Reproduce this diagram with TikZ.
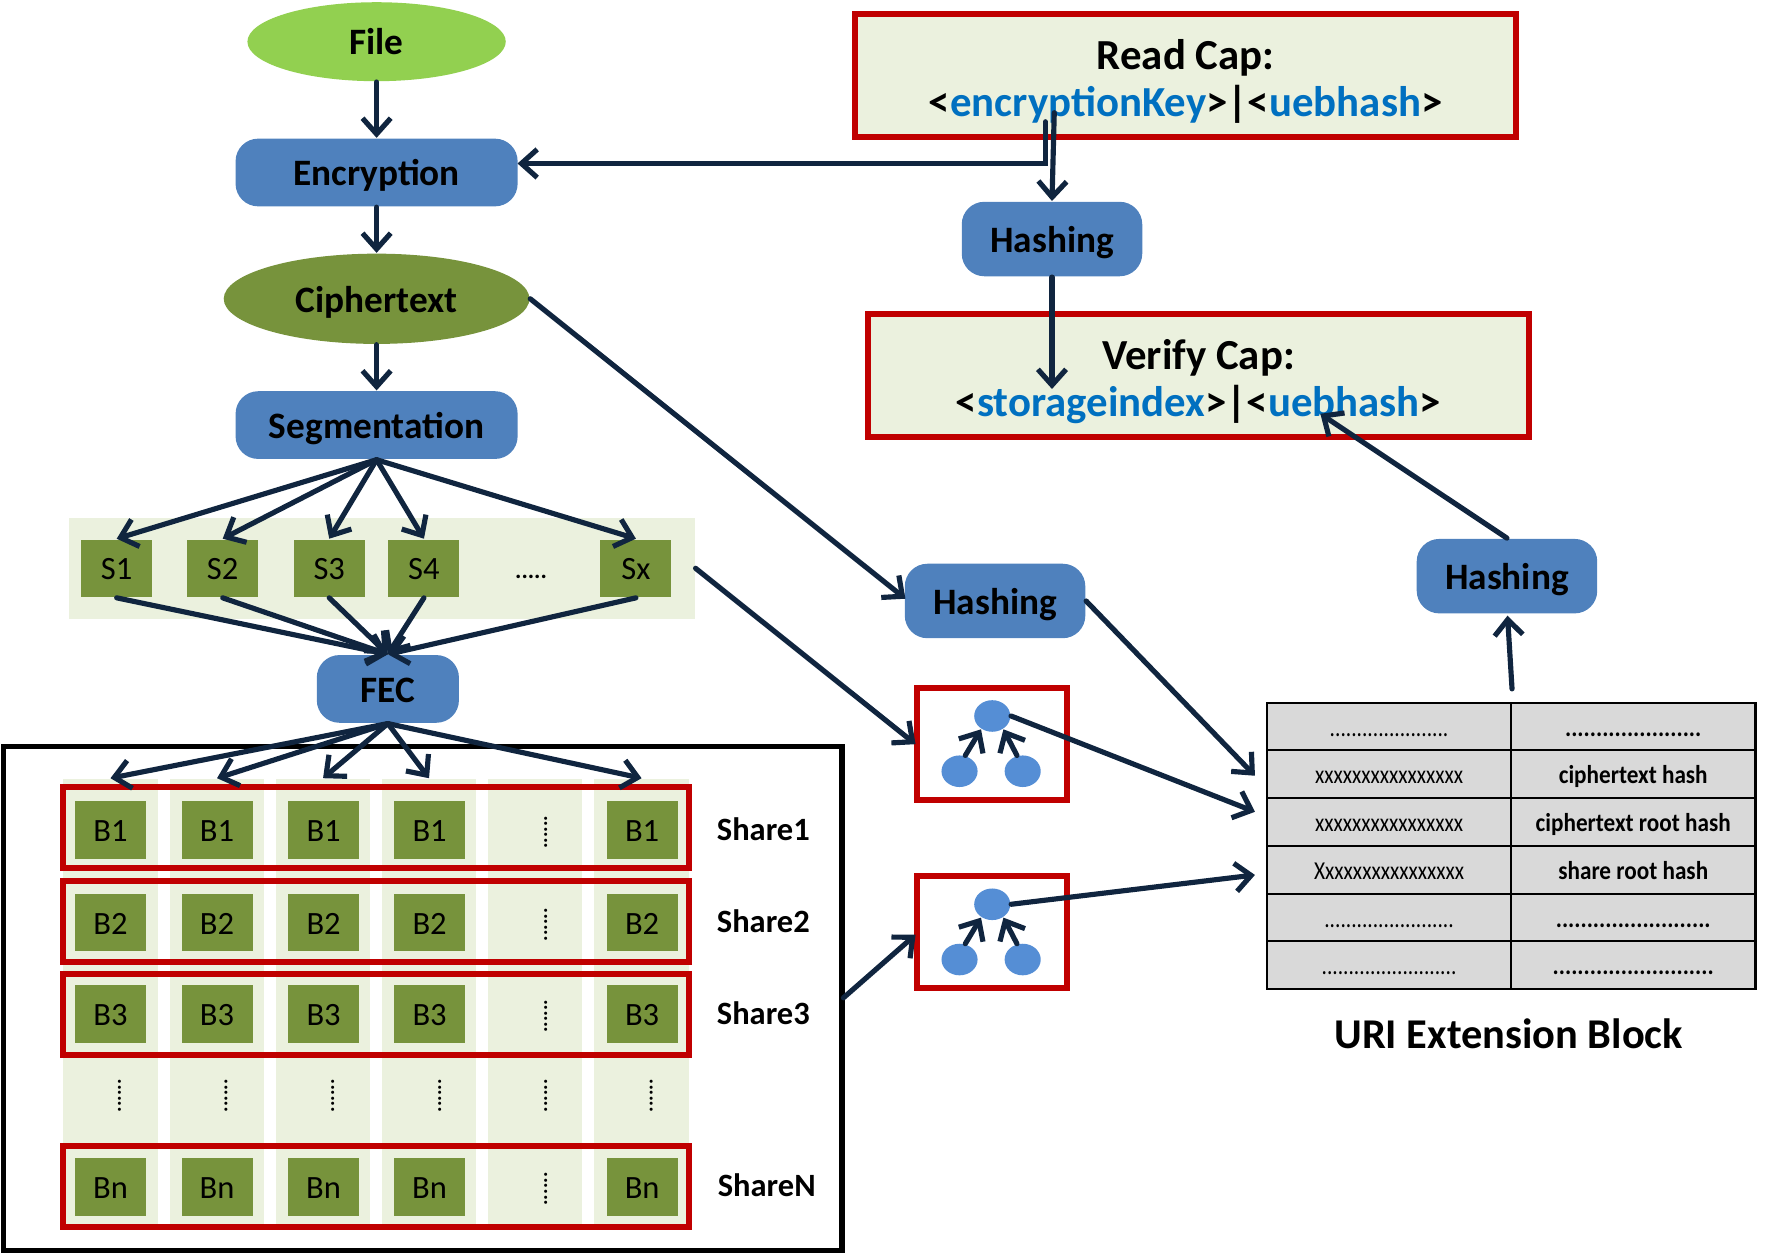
\documentclass[tikz,border=0pt]{standalone}
\usepackage{fontspec}
\usepackage{xcolor}
\setmainfont{Carlito}
\newfontfamily\narrowfont[FakeStretch=0.83]{Carlito}
\usetikzlibrary{arrows.meta,shapes.geometric}
\definecolor{leaf-green}{HTML}{92D050}
\definecolor{olive-green}{HTML}{77933C}
\definecolor{pale-green}{HTML}{EBF1DE}
\definecolor{box-blue}{HTML}{4F81BD}
\definecolor{tree-blue}{HTML}{558ED5}
\definecolor{cap-red}{HTML}{C00000}
\definecolor{cap-blue}{HTML}{0070C0}
\definecolor{arrow-navy}{HTML}{10253F}
\definecolor{cell-grey}{HTML}{D9D9D9}
\tikzset{
    flow-arrow/.style = {draw=arrow-navy, line width=1.3pt, line cap=round, -{Straight Barb[length=1.4mm,width=2.5mm,line width=1.3pt]}},
    process-box/.style = {fill=box-blue, rectangle, rounded corners=0.2cm, minimum height=0.6cm, font=\fontsize{9.4}{11}\selectfont\bfseries, inner sep=0pt, text height=7.7pt, text depth=1pt},
    hash-box/.style = {process-box, minimum width=1.6cm, minimum height=0.66cm},
    data-ellipse/.style = {ellipse, font=\fontsize{9.4}{11}\selectfont\bfseries, inner sep=0pt, text height=7.7pt, text depth=1pt},
    cap-box/.style = {draw=cap-red, fill=pale-green, line width=1.5pt, rectangle, minimum width=5.86cm, minimum height=1.09cm, align=center, font=\fontsize{10.8}{11.7}\selectfont\bfseries},
    segment-box/.style = {fill=olive-green, rectangle, minimum width=0.63cm, minimum height=0.51cm, font=\fontsize{8.2}{10}\selectfont, inner sep=0pt, text height=5.9pt, text depth=0pt},
    share-band/.style = {fill=pale-green, rectangle, minimum width=0.84cm, minimum height=3.97cm, inner sep=0pt},
    share-row/.style = {draw=cap-red, line width=1.5pt, rectangle, minimum width=5.55cm, minimum height=0.72cm},
    share-label/.style = {font=\fontsize{8.2}{10}\selectfont\bfseries},
    tree-box/.style = {draw=cap-red, line width=1.5pt, rectangle, minimum width=1.33cm, minimum height=0.99cm},
    tree-dot/.style = {fill=tree-blue, ellipse, minimum width=0.32cm, minimum height=0.28cm, inner sep=0pt},
    dot-run/.style = {rotate=90, font=\fontsize{5.2}{6}\selectfont\bfseries, inner sep=0pt},
    table-cell/.style = {draw=black, fill=cell-grey, line width=0.6pt, rectangle, minimum height=0.4233cm, text height=6.1pt, text depth=1.4pt, inner sep=0pt, font=\fontsize{6.5}{7}\selectfont},
}
\newcommand{\capkey}[1]{\textcolor{cap-blue}{#1}}

\begin{document}
\begin{tikzpicture}[x=0.01cm,y=-0.01cm]
\useasboundingbox (0,0) rectangle (1568,1113);

\node[data-ellipse, fill=leaf-green, minimum width=2.29cm, minimum height=0.7cm] (file) at (334,37) {File};
\node[process-box, minimum width=2.5cm] (encryption) at (334,153) {Encryption};
\node[data-ellipse, fill=olive-green, minimum width=2.71cm, minimum height=0.8cm] (ciphertext) at (334,265) {Ciphertext};
\node[process-box, minimum width=2.5cm] (segmentation) at (334,377) {Segmentation};

\node[fill=pale-green, rectangle, minimum width=5.55cm, minimum height=0.9cm, inner sep=0pt] (segband) at (338.5,504) {};
\foreach \name/\xpos/\txt in {s1/103.5/S1, s2/197.5/S2, s3/292/S3, s4/376/S4, sx/564/Sx}
    \node[segment-box] (\name) at (\xpos,504) {\txt};
\node[font=\fontsize{6}{7}\selectfont\bfseries, inner sep=0pt] (segdots) at (471,512) {.....};

\node[process-box, minimum width=1.26cm] (fec) at (344,611) {FEC};

\node[draw=black, line width=1.4pt, rectangle, minimum width=7.43cm, minimum height=4.47cm] (sharebox) at (375,885.5) {};
\foreach \name/\xpos in {b1/98, b2/192.5, b3/286.5, b4/380.5, b5/474.5, bx/569}
    \node[share-band] (\name) at (\xpos,889.5) {};
\foreach \rname/\ypos/\boxy/\labelx/\labely/\boxtxt/\sharetxt in {row1/734/736/677/735/B1/Share1, row2/817/818/677/817/B2/Share2, row3/899.5/899.5/677/899/B3/Share3, rown/1052/1052.5/680/1051/Bn/ShareN} {
    \node[share-row] (\rname) at (333.5,\ypos) {};
    \foreach \xpos in {98, 192.5, 287, 381, 569.5}
        \node[segment-box] at (\xpos,\boxy) {\boxtxt};
    \node[dot-run] at (484,\boxy+2) {......};
    \node[share-label] (\rname-label) at (\labelx,\labely) {\sharetxt};
}
\foreach \xpos in {106, 200.5, 295, 390, 484, 577.5}
    \node[dot-run] at (\xpos,972) {......};

\node[cap-box] (readcap) at (1051.5,67) {\rule{0pt}{10.6pt}Read Cap:\\<\capkey{encryptionKey}>|<\capkey{uebhash}>};
\node[hash-box] (hash1) at (933,212) {Hashing};
\node[cap-box] (verifycap) at (1063,333) {\rule{0pt}{10.6pt}Verify Cap:\\<\capkey{storageindex}>|<\capkey{uebhash}>};
\node[hash-box] (hash2) at (882.5,533) {Hashing};
\node[hash-box] (hash3) at (1336.5,511) {Hashing};

\node[tree-box] (tree1) at (879.5,660) {};
\node[tree-dot] (tree1top) at (880,635) {};
\node[tree-dot] (tree1a) at (851,684) {};
\node[tree-dot] (tree1b) at (907,684) {};
\node[tree-box] (tree2) at (879.5,826.5) {};
\node[tree-dot] (tree2top) at (880,802) {};
\node[tree-dot] (tree2a) at (851,851) {};
\node[tree-dot] (tree2b) at (907,851) {};

\foreach \ypos/\cella/\cellb [count=\r] in {
    644.5/{......................}/{......................},
    686.5/{xxxxxxxxxxxxxxxx}/{ciphertext hash},
    729/{xxxxxxxxxxxxxxxx}/{ciphertext root hash},
    771.5/{Xxxxxxxxxxxxxxxx}/{share root hash},
    814/{........................}/{.........................},
    856/{.........................}/{..........................}} {
    \node[table-cell, minimum width=2.16cm] (left\r) at (1232,\ypos) {\narrowfont\cella};
    \node[table-cell, minimum width=2.17cm] (right\r) at (1448.5,\ypos) {\scalebox{0.9}[1]{\bfseries\cellb}};
}
\node[font=\fontsize{10.7}{13}\selectfont\bfseries] (uriblock) at (1338,917) {URI Extension Block};

\coordinate (keyout) at (927,108);
\coordinate (keytip) at (459,145);
\coordinate (hashout) at (935,100);
\coordinate (verifyin) at (933,345);
\coordinate (uebtip) at (1171,367);
\coordinate (tableout) at (1341,611);
\coordinate (hash3in) at (1337,546);
\coordinate (hash2tip) at (803,531);
\coordinate (uri1) at (1113,688);
\coordinate (uri2) at (1113,720);
\coordinate (uri3) at (1113,776);
\coordinate (tree1in) at (812,660);
\coordinate (tree2in) at (812,829);
\coordinate (boxout) at (748,885);

\draw[flow-arrow] (file) -- (encryption);
\draw[flow-arrow] (encryption) -- (ciphertext);
\draw[flow-arrow] (ciphertext) -- (segmentation);
\foreach \target in {s1, s2, s3, s4, sx}
    \draw[flow-arrow] (segmentation.south) -- (\target.north);
\foreach \source in {s1, s2, s3, s4, sx}
    \draw[flow-arrow] (\source.south) -- (fec.north);
\foreach \target in {b1, b2, b3, b4, bx}
    \draw[flow-arrow] (fec.south) -- (\target.north);

\draw[flow-arrow] (keyout) |- (keytip);
\draw[flow-arrow] (hashout) -- (hash1.north);
\draw[flow-arrow] (hash1.south) -- (verifyin);
\draw[flow-arrow] (hash3.north) -- (uebtip);
\draw[flow-arrow] (tableout) -- (hash3in);
\draw[flow-arrow] (ciphertext.east) -- (hash2tip);
\draw[flow-arrow] (hash2.east) -- (uri1);
\draw[flow-arrow] (segband.east) -- (tree1in);
\draw[flow-arrow] (boxout) -- (tree2in);
\draw[flow-arrow] (tree1a.70) -- (tree1top.230);
\draw[flow-arrow] (tree1b.110) -- (tree1top.310);
\draw[flow-arrow] (tree2a.70) -- (tree2top.230);
\draw[flow-arrow] (tree2b.110) -- (tree2top.310);
\draw[flow-arrow] (tree1top.east) -- (uri2);
\draw[flow-arrow] (tree2top.east) -- (uri3);
\end{tikzpicture}
\end{document}
